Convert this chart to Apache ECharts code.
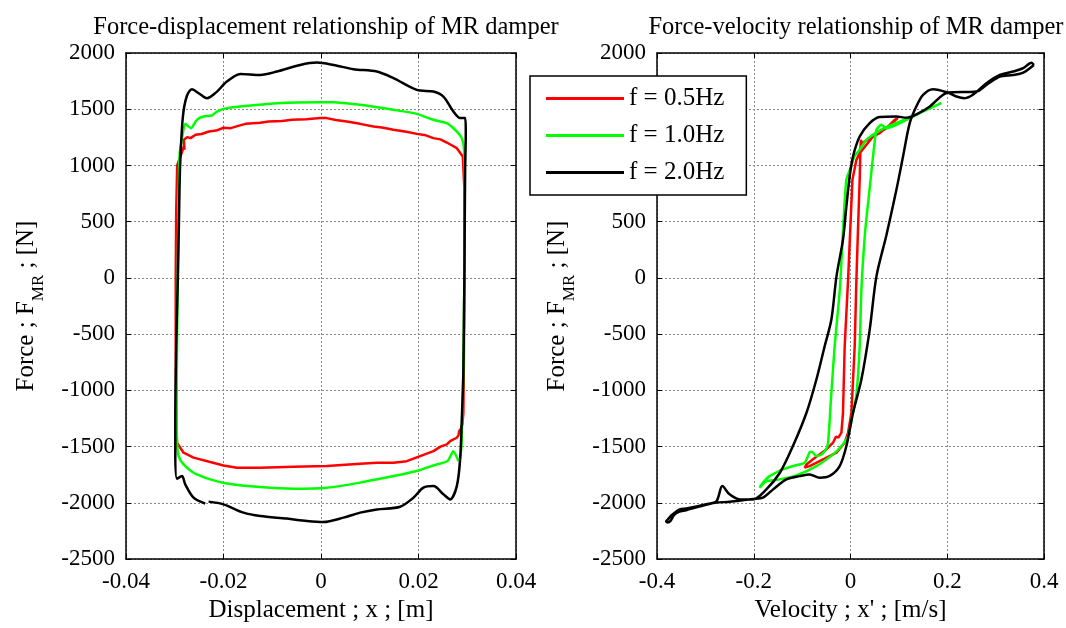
<!DOCTYPE html>
<html>
<head>
<meta charset="utf-8">
<script src="https://cdn.jsdelivr.net/npm/echarts@6/dist/echarts.min.js"></script>
<style>html,body{margin:0;padding:0;background:#fff}#c{width:1066px;height:628px}</style>
</head>
<body>
<div id="c"></div>
<script>
// ---- Data ----
const seriesNames = ['f = 0.5Hz', 'f = 1.0Hz', 'f = 2.0Hz'];
const dispTicks = [-0.04, -0.02, 0, 0.02, 0.04];
const velTicks = [-0.4, -0.2, 0, 0.2, 0.4];
const forceTicks = [-2500, -2000, -1500, -1000, -500, 0, 500, 1000, 1500, 2000];

// Force vs displacement  [x (m), F (N)]
const dispRed = [[-0.02969,-1258],[-0.0298,-600],[-0.0298,0],[-0.0297,600],[-0.0295,1000],[-0.02812,1169],[-0.0280,1140],[-0.02812,1228],[-0.02744,1252],[-0.02676,1243],[-0.02573,1273],[-0.0245,1280],[-0.023,1302],[-0.0215,1310],[-0.02,1335],[-0.0185,1332],[-0.0175,1345],[-0.0155,1370],[-0.0125,1380],[-0.01071,1391],[-0.008,1395],[-0.00592,1406],[-0.003,1412],[-0.00016,1421],[0.0012,1421],[0.003,1405],[0.00531,1391],[0.008,1370],[0.01077,1346],[0.0125,1338],[0.01486,1317],[0.0175,1300],[0.01966,1281],[0.0215,1268],[0.02306,1243],[0.0245,1232],[0.02581,1204],[0.02786,1154],[0.02909,1080],[0.0294,800],[0.0294,0],[0.0293,-800],[0.0292,-1200],[0.02901,-1300],[0.02870,-1340],[0.02833,-1362],[0.0282,-1400],[0.02786,-1421],[0.02717,-1436],[0.0265,-1450],[0.02581,-1480],[0.0245,-1500],[0.02306,-1540],[0.02034,-1584],[0.01761,-1629],[0.01486,-1643],[0.01146,-1643],[0.00804,-1652],[0.00121,-1673],[-0.00563,-1678],[-0.01247,-1687],[-0.01725,-1687],[-0.01999,-1667],[-0.02272,-1637],[-0.02614,-1598],[-0.02819,-1554],[-0.02954,-1465],[-0.02969,-1258]];
const dispGreen = [[0.0282,-1630],[0.02716,-1540],[0.02594,-1629],[0.02376,-1658],[0.02171,-1687],[0.01966,-1717],[0.01486,-1762],[0.00804,-1820],[0.00121,-1865],[-0.00563,-1874],[-0.01247,-1859],[-0.0193,-1827],[-0.02272,-1791],[-0.02614,-1732],[-0.02819,-1658],[-0.02921,-1584],[-0.02955,-1436],[-0.0296,-1000],[-0.0294,0],[-0.0292,700],[-0.029,1100],[-0.0285,1243],[-0.02784,1370],[-0.02665,1332],[-0.02546,1406],[-0.02409,1435],[-0.02238,1444],[-0.02135,1479],[-0.0193,1510],[-0.0152,1530],[-0.00904,1554],[-0.00016,1563],[0.00256,1563],[0.00804,1539],[0.01486,1495],[0.01966,1459],[0.02306,1406],[0.0258,1376],[0.02786,1302],[0.02888,1243],[0.02935,1139],[0.0295,800],[0.0294,0],[0.0292,-800],[0.029,-1200],[0.0288,-1500],[0.0285,-1613]];
const dispBlack = [[-0.02374,-2007],[-0.02614,-1954],[-0.02784,-1836],[-0.02852,-1762],[-0.02954,-1785],[-0.02989,-1554],[-0.02989,-1258],[-0.0297,-600],[-0.02935,16],[-0.0291,600],[-0.0289,1000],[-0.02833,1435],[-0.0275,1620],[-0.02648,1678],[-0.025,1640],[-0.02339,1598],[-0.0215,1650],[-0.0193,1746],[-0.01657,1814],[-0.01247,1805],[-0.00904,1835],[-0.00426,1894],[-0.00084,1915],[0.00256,1894],[0.00666,1856],[0.01146,1835],[0.01486,1776],[0.01966,1672],[0.02306,1657],[0.02511,1613],[0.02716,1479],[0.02853,1421],[0.02956,1421],[0.0297,1300],[0.02956,935],[0.02942,47],[0.0292,-841],[0.02888,-1258],[0.02854,-1613],[0.02786,-1851],[0.02649,-1969],[0.02511,-1924],[0.02306,-1851],[0.02101,-1865],[0.01896,-1954],[0.01624,-2034],[0.01146,-2058],[0.00804,-2087],[0.00461,-2131],[0.00051,-2170],[-0.00289,-2161],[-0.00699,-2140],[-0.01247,-2117],[-0.01589,-2087],[-0.01999,-2013],[-0.02306,-1989]];

// Force vs velocity  [v (m/s), F (N)]
const velRed = [[0.098,1421],[0.0742,1332],[0.0466,1257],[0.019,1110],[0.0122,1050],[0.004,873],[-0.005,-15],[-0.012,-607],[-0.0155,-1199],[-0.0188,-1376],[-0.022,-1380],[-0.025,-1420],[-0.03,-1410],[-0.036,-1465],[-0.05,-1525],[-0.0776,-1613],[-0.091,-1658],[-0.0947,-1687],[-0.0844,-1673],[-0.0567,-1613],[-0.029,-1554],[-0.012,-1465],[-0.005,-1376],[0.0019,-1199],[0.0087,-607],[0.0122,-15],[0.016,500],[0.019,873],[0.0205,1139],[0.0215,1228],[0.024,1180],[0.028,1210],[0.0397,1243],[0.0604,1288],[0.081,1361],[0.0914,1406],[0.098,1421]];
const velGreen = [[0.188,1554],[0.157,1495],[0.12,1420],[0.09,1370],[0.06,1310],[0.033,1228],[0.019,1139],[0.008,1080],[0.002,1000],[-0.0085,873],[-0.015,450],[-0.022,-100],[-0.0327,-607],[-0.0395,-1021],[-0.0463,-1465],[-0.05,-1520],[-0.06,-1570],[-0.0705,-1584],[-0.08,-1545],[-0.0844,-1549],[-0.0947,-1643],[-0.119,-1673],[-0.1396,-1702],[-0.167,-1762],[-0.181,-1820],[-0.188,-1865],[-0.175,-1810],[-0.146,-1791],[-0.112,-1756],[-0.0705,-1673],[-0.036,-1569],[-0.0188,-1495],[-0.005,-1406],[0.0052,-1199],[0.012,-1051],[0.019,-607],[0.0225,-104],[0.03,400],[0.0397,800],[0.0466,1080],[0.0536,1317],[0.0639,1361],[0.0742,1332],[0.0949,1361],[0.129,1435],[0.164,1510],[0.188,1554]];
const velBlack = [[0.379,1894],[0.357,1826],[0.336,1805],[0.3086,1790],[0.281,1716],[0.26,1657],[0.2016,1648],[0.164,1525],[0.143,1470],[0.1156,1425],[0.0949,1435],[0.0604,1430],[0.0397,1376],[0.019,1257],[0.0052,1080],[-0.0017,902],[-0.0085,636],[-0.0155,340],[-0.029,14],[-0.0395,-370],[-0.0534,-607],[-0.0705,-903],[-0.091,-1199],[-0.119,-1495],[-0.146,-1732],[-0.174,-1880],[-0.2016,-1969],[-0.229,-1969],[-0.25,-1924],[-0.265,-1851],[-0.277,-1984],[-0.298,-2013],[-0.339,-2051],[-0.353,-2058],[-0.37,-2110],[-0.378,-2150],[-0.381,-2165],[-0.378,-2175],[-0.372,-2160],[-0.365,-2110],[-0.355,-2080],[-0.34,-2065],[-0.31,-2030],[-0.28,-2000],[-0.25,-1990],[-0.22,-1975],[-0.2016,-1965],[-0.181,-1954],[-0.16,-1880],[-0.1326,-1791],[-0.105,-1762],[-0.0844,-1747],[-0.0637,-1776],[-0.043,-1760],[-0.0223,-1673],[-0.0085,-1495],[0.0052,-1199],[0.0225,-903],[0.0397,-459],[0.0536,14],[0.0742,380],[0.0949,784],[0.1086,1080],[0.1224,1376],[0.136,1524],[0.15,1628],[0.1706,1678],[0.2016,1648],[0.219,1613],[0.236,1598],[0.253,1628],[0.281,1731],[0.3086,1805],[0.336,1835],[0.357,1865],[0.374,1914],[0.379,1894]];

// ---- Chart ----
const FONT = "'Liberation Serif','Times New Roman',serif";
const colors = ['#ff0000', '#00ff00', '#000000'];
const chart = echarts.init(document.getElementById('c'), null, {renderer: 'canvas'});

function valAxis(opts) {
  return Object.assign({
    type: 'value',
    axisLine: {show: true, onZero: false, lineStyle: {color: '#000', width: 1.5}},
    axisTick: {show: true, inside: true, length: 5, lineStyle: {color: '#000'}},
    axisLabel: {color: '#000', fontFamily: FONT, fontSize: 23, margin: 11, formatter: function (v) { return String(v); }},
    splitLine: {show: true, lineStyle: {color: '#888', type: [2, 2], width: 1}},
    nameTextStyle: {color: '#000', fontFamily: FONT, fontSize: 25},
  }, opts);
}
function frameAxis(opts) {
  return Object.assign({
    type: 'value',
    axisLine: {show: true, onZero: false, lineStyle: {color: '#000', width: 1.5}},
    axisTick: {show: true, inside: true, length: 5, lineStyle: {color: '#000'}},
    axisLabel: {show: false},
    splitLine: {show: false},
  }, opts);
}
const yName = '{a|Force ; F}{s|MR}{a| ; [N]}';
const yRich = {
  a: {fontFamily: FONT, fontSize: 25, color: '#000', lineHeight: 28, verticalAlign: 'top'},
  s: {fontFamily: FONT, fontSize: 17, color: '#000', lineHeight: 33, verticalAlign: 'bottom'}
};

const grids = [
  {left: 126, top: 53, width: 390, height: 507},
  {left: 657, top: 53, width: 387, height: 507}
];
const xAxes = [
  valAxis({gridIndex: 0, min: dispTicks[0], max: dispTicks[4], interval: 0.02, name: 'Displacement ; x ; [m]', nameLocation: 'middle', nameGap: 34}),
  valAxis({gridIndex: 1, min: velTicks[0], max: velTicks[4], interval: 0.2, name: "Velocity ; x' ; [m/s]", nameLocation: 'middle', nameGap: 34}),
  frameAxis({gridIndex: 0, position: 'top', min: dispTicks[0], max: dispTicks[4], interval: 0.02}),
  frameAxis({gridIndex: 1, position: 'top', min: velTicks[0], max: velTicks[4], interval: 0.2})
];
const yAxes = [
  valAxis({gridIndex: 0, min: forceTicks[0], max: forceTicks[9], interval: 500, name: yName, nameLocation: 'middle', nameGap: 79, nameRotate: 90, nameTextStyle: {rich: yRich}}),
  valAxis({gridIndex: 1, min: forceTicks[0], max: forceTicks[9], interval: 500, name: yName, nameLocation: 'middle', nameGap: 79, nameRotate: 90, nameTextStyle: {rich: yRich}}),
  frameAxis({gridIndex: 0, position: 'right', min: forceTicks[0], max: forceTicks[9], interval: 500}),
  frameAxis({gridIndex: 1, position: 'right', min: forceTicks[0], max: forceTicks[9], interval: 500})
];

function line(name, data, xi, yi, color, smooth) {
  return {
    name: name, type: 'line', data: data, xAxisIndex: xi, yAxisIndex: yi,
    symbol: 'none', showSymbol: false, smooth: smooth, animation: false,
    lineStyle: {color: color, width: 2.5}, itemStyle: {color: color}, z: 3
  };
}

chart.setOption({
  backgroundColor: '#fff',
  animation: false,
  title: [
    {text: 'Force-displacement relationship of MR damper', left: 321, top: 10, textAlign: 'center',
     textStyle: {fontFamily: FONT, fontWeight: 'normal', fontSize: 24.5, color: '#000'}},
    {text: 'Force-velocity relationship of MR damper', left: 851, top: 10, textAlign: 'center',
     textStyle: {fontFamily: FONT, fontWeight: 'normal', fontSize: 24.5, color: '#000'}}
  ],
  legend: {
    data: seriesNames, orient: 'vertical', left: 530, top: 76,
    padding: [10, 22, 10, 16], itemGap: 12, itemWidth: 78, itemHeight: 3, icon: 'rect',
    backgroundColor: '#fff', borderColor: '#000', borderWidth: 1.5, borderRadius: 0,
    textStyle: {fontFamily: FONT, fontSize: 25, color: '#000'}, z: 10
  },
  grid: grids,
  xAxis: xAxes,
  yAxis: yAxes,
  series: [
    line(seriesNames[0], dispRed, 0, 0, colors[0], false),
    line(seriesNames[1], dispGreen, 0, 0, colors[1], 0.2),
    line(seriesNames[2], dispBlack, 0, 0, colors[2], 0.3),
    line(seriesNames[0], velRed, 1, 1, colors[0], false),
    line(seriesNames[1], velGreen, 1, 1, colors[1], 0.2),
    line(seriesNames[2], velBlack, 1, 1, colors[2], 0.3)
  ]
});
</script>
</body>
</html>
